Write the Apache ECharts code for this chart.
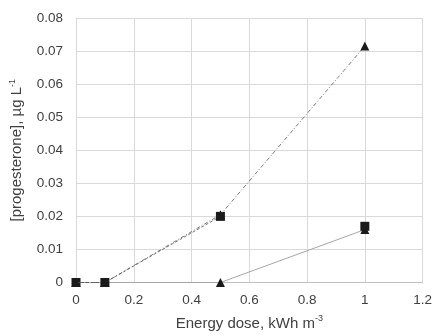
<!DOCTYPE html>
<html>
<head>
<meta charset="utf-8">
<script src="https://cdn.jsdelivr.net/npm/echarts@6/dist/echarts.min.js"></script>
<style>
  html, body { margin: 0; padding: 0; background: #fff; }
  #chart { width: 435px; height: 336px; }
</style>
</head>
<body>
<div id="chart"></div>
<script>
// Energy dose (kWh m^-3) and measured progesterone (µg L^-1)
const doseA = [0, 0.1, 0.5];
const squaresDashed = [0, 0, 0.02];
const doseB = [0, 0.1, 0.5, 1];
const trianglesDashDot = [0, 0, 0.0205, 0.0715];
const trianglesSolid = [0, 0, 0, 0.016];
const doseC = [1];
const squaresSingle = [0.017];
const xTicks = [0, 0.2, 0.4, 0.6, 0.8, 1, 1.2];
const yTicks = [0, 0.01, 0.02, 0.03, 0.04, 0.05, 0.06, 0.07, 0.08];

const pairs = (xs, ys) => xs.map((x, i) => [x, ys[i]]);
const font = 'Liberation Sans';

const chart = echarts.init(document.getElementById('chart'), null, { renderer: 'canvas' });

function series(name, xs, ys, symbol, size, color, type, width, z) {
  return {
    name, type: 'line', data: pairs(xs, ys), symbol, symbolSize: size,
    itemStyle: { color: '#1a1a1a' },
    lineStyle: { color, type, width },
    emphasis: { disabled: true }, z, animation: false
  };
}

const titleRich = {
  t: { fontFamily: font, fontSize: 15, color: '#404040' },
  s: { fontFamily: font, fontSize: 9, color: '#404040', verticalAlign: 'top', padding: [0, 0, 9, 0] }
};

chart.setOption({
  animation: false,
  grid: { left: 75, right: 11, top: 18, bottom: 53, containLabel: false },
  xAxis: {
    type: 'value', min: 0, max: 1.2, interval: 0.2,
    name: '{t|Energy dose, kWh m}{s|-3}',
    nameLocation: 'middle', nameGap: 32,
    nameTextStyle: { rich: titleRich },
    axisLine: { show: true, lineStyle: { color: '#bfbfbf', width: 1 } },
    axisTick: { show: false },
    axisLabel: { fontFamily: font, fontSize: 13.5, color: '#404040', margin: 11,
      formatter: v => String(xTicks.find(t => Math.abs(t - v) < 1e-9) ?? +v.toFixed(1)) },
    splitLine: { show: true, lineStyle: { color: '#d9d9d9', width: 1 } }
  },
  yAxis: {
    type: 'value', min: 0, max: 0.08, interval: 0.01,
    name: '{t|[progesterone], µg L}{s|-1}',
    nameLocation: 'middle', nameGap: 50, nameRotate: 90,
    nameTextStyle: { rich: titleRich },
    axisLine: { show: true, lineStyle: { color: '#d9d9d9', width: 1 } },
    axisTick: { show: false },
    axisLabel: { fontFamily: font, fontSize: 13.5, color: '#404040', margin: 13,
      formatter: v => String(yTicks.find(t => Math.abs(t - v) < 1e-9) ?? +v.toFixed(2)) },
    splitLine: { show: true, lineStyle: { color: '#d9d9d9', width: 1 } }
  },
  series: [
    series('triangles, solid', doseB, trianglesSolid, 'triangle', 9, '#a6a6a6', 'solid', 1, 2),
    series('squares, single', doseC, squaresSingle, 'rect', 9, '#a6a6a6', 'solid', 1, 3),
    series('squares, dashed', doseA, squaresDashed, 'rect', 9, '#595959', [3, 2], 0.8, 4),
    series('triangles, dash-dot', doseB, trianglesDashDot, 'triangle', 9, '#595959', [4, 2, 1, 2], 0.8, 5)
  ]
});
</script>
</body>
</html>
